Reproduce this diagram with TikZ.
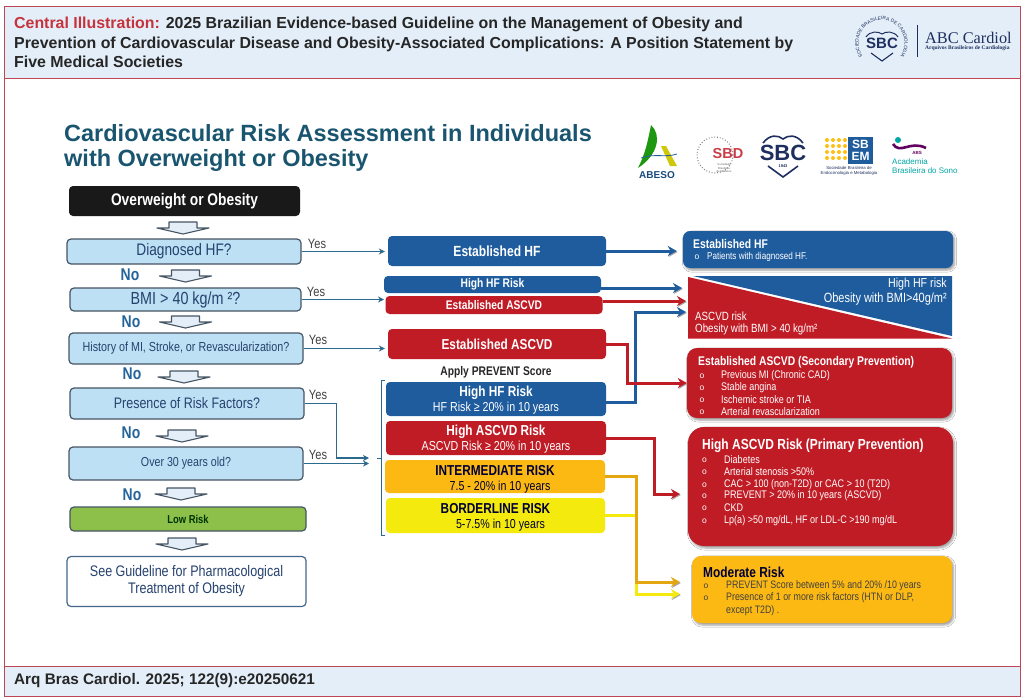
\documentclass[tikz,border=0pt]{standalone}
\usepackage{fontspec}
\setmainfont{Liberation Sans}
\newfontfamily\condfont[FakeStretch=0.82]{Liberation Sans}
\newfontfamily\logoserif{Liberation Serif}
\usepackage{tikz}
\usetikzlibrary{arrows.meta,calc,shadows.blur,decorations.text}
\usepackage{xcolor}
\definecolor{framered}{RGB}{190,70,85}
\definecolor{headblue}{RGB}{227,238,248}
\definecolor{titleteal}{RGB}{26,85,112}
\definecolor{qfill}{RGB}{190,224,244}
\definecolor{qedge}{RGB}{70,85,100}
\definecolor{navytext}{RGB}{38,66,110}
\definecolor{noblue}{RGB}{35,100,155}
\definecolor{linkteal}{RGB}{43,106,140}
\definecolor{riskblue}{RGB}{30,92,158}
\definecolor{riskred}{RGB}{192,28,38}
\definecolor{riskamber}{RGB}{253,185,19}
\definecolor{riskyellow}{RGB}{244,234,14}
\definecolor{lowgreen}{RGB}{140,192,75}
\definecolor{sbcnavy}{RGB}{30,47,95}
\tikzset{
    band/.style={draw=framered, line width=0.8pt, fill=headblue},
    body/.style={font=\fontsize{#1}{#1}\selectfont\condfont},
    headline/.style={anchor=west, inner sep=0pt, align=left,
                     font=\fontsize{15.9}{19.5}\selectfont\bfseries, text=black!85},
    qbox/.style={draw=qedge, line width=1.2pt, rounded corners=4pt, fill=qfill,
                 inner sep=0pt, text=navytext, align=center},
    nolabel/.style={inner sep=0pt, text=noblue,
                    font=\fontsize{17}{17}\selectfont\condfont\bfseries},
    yeslabel/.style={inner sep=0pt, text=black!75,
                     font=\fontsize{13.5}{13.5}\selectfont\condfont},
    link/.style={-{Stealth[length=6pt,width=6pt]}, line width=1.2pt, linkteal},
    midbox/.style={rounded corners=4pt, fill=#1, inner sep=0pt, text=white,
                   align=center},
    heavy/.style={-{Stealth[length=9pt,width=10pt]}, line width=3pt, #1,
                  preaction={draw=black!35, transform canvas={shift={(0.8pt,-1pt)}}}},
    riskbox/.style={fill=#1, inner sep=0pt,
                    blur shadow={shadow xshift=1.5pt, shadow yshift=-2pt, shadow blur steps=5}},
    rhead/.style={anchor=west, inner sep=0pt, text=#1,
                  font=\fontsize{12.6}{12.6}\selectfont\condfont\bfseries},
    ritem/.style={anchor=west, inner sep=0pt, text=#1,
                  font=\fontsize{11}{11}\selectfont\condfont},
    rbull/.style={inner sep=0pt, text=#1, font=\fontsize{8.5}{8.5}\selectfont},
    downarr/.pic={
        \draw[line width=1.1pt, draw=qedge, fill=headblue, line join=round]
            (-14,0) -- (14,0) -- (14,6) -- (26,6) -- (0,12) -- (-26,6) -- (-14,6) -- cycle;
    },
}
\begin{document}
\begin{tikzpicture}[x=1pt,y=-1pt]
    \useasboundingbox (0,0) rectangle (1024,698);
    \fill[white] (0,0) rectangle (1024,698);

    \draw[framered, line width=0.8pt] (4.5,6) rectangle (1020,696);
    \draw[band] (4.5,6) rectangle (1020,78);
    \draw[band] (4.5,666) rectangle (1020,696);

    \node[headline] (head) at (14,42.5) {\textcolor{riskred!90!white}{Central Illustration:} 2025 Brazilian Evidence-based Guideline on the Management of Obesity and\\
        Prevention of Cardiovascular Disease and Obesity-Associated Complications: A Position Statement by\\
        Five Medical Societies};
    \node[headline, font=\fontsize{15.3}{15.3}\selectfont\bfseries] (foot) at (14,681) {Arq Bras Cardiol. 2025; 122(9):e20250621};

    \node[anchor=west, inner sep=0pt, align=left, text=titleteal,
          font=\fontsize{23.5}{25}\selectfont\bfseries] (maintitle) at (64,148)
          {Cardiovascular Risk Assessment in Individuals\\with Overweight or Obesity};

    % journal mark
    \draw[sbcnavy, line width=0.8pt] (917,25) -- (917,57);
    \path[decorate, decoration={text along path, text align=center,
          text={|\fontsize{4.8}{4.8}\selectfont\color{sbcnavy}|SOCIEDADE BRASILEIRA DE CARDIOLOGIA}}]
        (881.5,43) ++(100:23) arc[start angle=100, end angle=440, radius=23];
    \draw[sbcnavy, line width=1pt] (866,37) .. controls (870,31) and (878,31) .. (882,34) .. controls (886,31) and (894,31) .. (898,37);
    \node[inner sep=0pt, text=sbcnavy, font=\fontsize{15}{15}\selectfont\bfseries] (sbchead) at (882,43) {SBC};
    \draw[sbcnavy, line width=1.1pt] (871,53) -- (882,61) -- (893,53);
    \node[inner sep=0pt, anchor=west, text=sbcnavy, font=\fontsize{16.3}{16.3}\selectfont\logoserif] (abc) at (925,37.5) {ABC Cardiol};
    \node[inner sep=0pt, anchor=west, text=sbcnavy, font=\fontsize{5.5}{5.5}\selectfont\logoserif\bfseries] (abcsub) at (925,48.5) {Arquivos Brasileiros de Cardiologia};

    % society marks
    \fill[green!55!black!80!lowgreen] (651,125) .. controls (662,135) and (658,155) .. (638,168) .. controls (646,152) and (648,140) .. (651,125);
    \fill[riskyellow!85!black] (661,146) -- (666,146) -- (677,166) -- (670,166) -- cycle;
    \draw[riskblue, line width=0.8pt] (641,158) .. controls (655,153) and (665,158) .. (677,154);
    \node[inner sep=0pt, text=riskblue!80!black, font=\fontsize{10}{10}\selectfont\bfseries] (abeso) at (657,175) {ABESO};

    \draw[black!55, line width=1pt, dash pattern=on 0.8pt off 2pt] (715,155) circle[radius=18];
    \node[inner sep=0pt, text=riskred!85!white, font=\fontsize{14.5}{14.5}\selectfont\bfseries] (sbd) at (728,154) {SBD};
    \node[inner sep=0pt, align=center, text=black!60, font=\fontsize{2.8}{3.2}\selectfont] (sbdsub) at (724,168) {Sociedade\\Brasileira\\de Diabetes};

    \draw[sbcnavy, line width=1.6pt] (763,143) .. controls (770,134) and (778,135) .. (783,139) .. controls (788,135) and (796,134) .. (803,143);
    \draw[sbcnavy, line width=1.6pt] (768,166) -- (783,177) -- (798,166);
    \node[inner sep=0pt, text=sbcnavy, font=\fontsize{22}{22}\selectfont\bfseries] (sbc) at (783,153) {SBC};
    \node[inner sep=0pt, text=sbcnavy, font=\fontsize{4}{4}\selectfont\bfseries] (sbcyear) at (783,166.5) {1943};

    \foreach \dx in {827,833,839,845}
        \foreach \dy in {140,146,152,158}
            \fill[riskamber!90!yellow] (\dx,\dy) circle[radius=2];
    \fill[riskblue] (848,137) rectangle (873,164);
    \node[inner sep=0pt, align=center, text=white, font=\fontsize{12}{12.5}\selectfont\bfseries] (sbem) at (860.5,150.5) {SB\\EM};
    \node[inner sep=0pt, align=center, text=sbcnavy, font=\fontsize{4.3}{5.5}\selectfont] (sbemsub) at (849,171) {Sociedade Brasileira de\\Endocrinologia e Metabologia};

    \fill[teal!70!cyan] (898,140) circle[radius=3];
    \draw[violet!75!black, line width=2.6pt] (893,144) .. controls (900,155) and (910,140) .. (926,148);
    \node[inner sep=0pt, text=violet!75!black, font=\fontsize{4.5}{4.5}\selectfont\bfseries] (abs) at (917,152.5) {ABS};
    \node[inner sep=0pt, anchor=west, align=left, text=teal!70!cyan, font=\fontsize{8}{8.5}\selectfont] (abssub) at (892,166) {Academia\\Brasileira do Sono};

    % left column
    \node[rounded corners=4pt, fill=black!90, text=white, inner sep=0pt, minimum width=231pt, minimum height=30pt,
          font=\fontsize{16.8}{16.8}\selectfont\condfont\bfseries] (start) at (184.5,201) {\raisebox{-4pt}{Overweight or Obesity}};
    \node[qbox, minimum width=234pt, minimum height=25pt, body=16.7] (qhf) at (184,251.5) {\raisebox{-3pt}{Diagnosed HF?}};
    \node[qbox, minimum width=231pt, minimum height=23pt, body=17.5] (qbmi) at (185.5,299.5) {\raisebox{-3pt}{BMI > 40 kg/m ²?}};
    \node[qbox, minimum width=234pt, minimum height=31pt, body=13.1] (qhist) at (186,348.5) {\raisebox{-1.5pt}{History of MI, Stroke, or Revascularization?}};
    \node[qbox, minimum width=234pt, minimum height=31pt, body=15.2] (qrisk) at (187,403.5) {Presence of Risk Factors?};
    \node[qbox, minimum width=234pt, minimum height=33pt, body=13] (qage) at (186,463.5) {\raisebox{-1pt}{Over 30 years old?}};
    \node[qbox, fill=lowgreen, minimum width=236pt, minimum height=24pt, text=black!80!green,
          font=\fontsize{11.5}{11.5}\selectfont\condfont\bfseries] (low) at (188,519) {Low Risk};
    \node[qbox, fill=white, draw=riskblue!70!black!80, minimum width=239pt, minimum height=50pt, text=navytext,
          font=\fontsize{15.3}{17}\selectfont\condfont] (guide) at (186.5,581.5) {See Guideline for Pharmacological\\Treatment of Obesity};

    \pic at (183,222) {downarr};
    \pic at (185.5,270) {downarr};
    \pic at (185.5,316) {downarr};
    \pic at (184,371) {downarr};
    \pic at (182,430) {downarr};
    \pic at (181,488) {downarr};
    \pic at (182,538) {downarr};

    \node[nolabel] (no1) at (130,275) {No};
    \node[nolabel] (no2) at (131,322) {No};
    \node[nolabel] (no3) at (132,374) {No};
    \node[nolabel] (no4) at (131,433) {No};
    \node[nolabel] (no5) at (132,495) {No};

    \node[yeslabel] (yes1) at (317,244) {Yes};
    \node[yeslabel] (yes2) at (316,292) {Yes};
    \node[yeslabel] (yes3) at (318,340) {Yes};
    \node[yeslabel] (yes4) at (318,395) {Yes};
    \node[yeslabel] (yes5) at (318,455) {Yes};

    % middle column
    \node[midbox=riskblue, minimum width=218pt, minimum height=30pt, font=\fontsize{14.7}{14.7}\selectfont\condfont\bfseries] (mhf) at (497,251) {Established HF};
    \node[midbox=riskblue, minimum width=217pt, minimum height=17pt, font=\fontsize{12.5}{12.5}\selectfont\condfont\bfseries] (mhfr) at (492.5,284.5) {High HF Risk};
    \node[midbox=riskred, minimum width=217pt, minimum height=18pt, font=\fontsize{12.5}{12.5}\selectfont\condfont\bfseries] (masc) at (494,305) {Established ASCVD};
    \node[midbox=riskred, minimum width=218pt, minimum height=30pt, font=\fontsize{14.4}{14.4}\selectfont\condfont\bfseries] (mascb) at (497,344) {Established ASCVD};
    \node[inner sep=0pt, text=black!85, font=\fontsize{12.5}{12.5}\selectfont\condfont\bfseries] (apply) at (496,372) {Apply PREVENT Score};
    \node[midbox=riskblue, minimum width=220pt, minimum height=34pt, font=\fontsize{13}{15}\selectfont\condfont] (prevhf) at (496,399)
        {\rule{0pt}{13pt}{\fontsize{14.4}{15}\selectfont\bfseries High HF Risk}\\HF Risk ≥ 20\% in 10 years};
    \node[midbox=riskred, minimum width=220pt, minimum height=34pt, font=\fontsize{13}{15}\selectfont\condfont] (prevasc) at (496,438)
        {\rule{0pt}{13pt}{\fontsize{14.4}{15}\selectfont\bfseries High ASCVD Risk}\\ASCVD Risk ≥ 20\% in 10 years};
    \node[midbox=riskamber, text=black!80!blue, minimum width=220pt, minimum height=33pt, font=\fontsize{13}{15}\selectfont\condfont] (prevint) at (495,476.5)
        {\rule{0pt}{15pt}{\fontsize{14.4}{15}\selectfont\bfseries INTERMEDIATE RISK}\\\hspace*{10pt}7.5 - 20\% in 10 years};
    \node[midbox=riskyellow, text=black!80!blue, minimum width=219pt, minimum height=35pt, font=\fontsize{13}{15}\selectfont\condfont] (prevbord) at (495.5,515.5)
        {\rule{0pt}{14pt}{\fontsize{14.4}{15}\selectfont\bfseries BORDERLINE RISK}\\\hspace*{10pt}5-7.5\% in 10 years};

    \draw[linkteal, line width=1pt] (385,380) -- (381,380) -- (381,535) -- (385,535);
    \coordinate (brk) at (381,458);
    \draw[linkteal, line width=1pt] (377,458) -- (brk);
    \coordinate (brkin1) at (369,458);
    \coordinate (brkin2) at (369,463.5);
    \coordinate (bmiend) at (384,299.5);

    \draw[link, shorten >=3pt] (qhf.east) -- (qhf.east -| mhf.west);
    \draw[link] (qbmi.east) -- (bmiend);
    \draw[link, shorten >=3pt] (qhist.east) -- (qhist.east -| mascb.west);
    \draw[link] (qrisk.east) -- ++(32,0) |- (brkin1);
    \draw[link] (qage.east) -- (brkin2);

    % right column
    \node[riskbox=riskblue, rounded corners=7pt, minimum width=270pt, minimum height=37pt] (rhf) at (818,249.5) {};
    \node[rhead=white] (rhftitle) at (693,244) {Established HF};
    \node[rbull=white] (rhfo) at (697,257) {o};
    \node[ritem=white, font=\fontsize{9.9}{9.9}\selectfont\condfont] (rhfitem) at (707,257) {Patients with diagnosed HF.};

    \fill[riskred] (688,277) -- (952,338.5) -- (688,338.5) -- cycle;
    \fill[riskblue] (693,276) -- (952,276) -- (952,336) -- cycle;
    \node[inner sep=0pt, anchor=east, text=white, font=\fontsize{13}{13}\selectfont\condfont] (trihf) at (947,284) {High HF risk};
    \node[inner sep=0pt, anchor=east, text=white, font=\fontsize{13.4}{13.4}\selectfont\condfont] (trihfb) at (947,299) {Obesity with BMI>40g/m²};
    \node[inner sep=0pt, anchor=west, text=white, font=\fontsize{11.9}{11.9}\selectfont\condfont] (triasc) at (695,316) {ASCVD risk};
    \node[inner sep=0pt, anchor=west, text=white, font=\fontsize{11.9}{11.9}\selectfont\condfont] (triascb) at (695,329) {Obesity with BMI > 40 kg/m²};

    \node[riskbox=riskred, rounded corners=10pt, minimum width=265pt, minimum height=70pt] (rsec) at (819.5,383) {};
    \node[rhead=white] (rsectitle) at (698,362) {Established ASCVD (Secondary Prevention)};
    \foreach \iy/\itxt in {376/Previous MI (Chronic CAD), 388/Stable angina, 400/Ischemic stroke or TIA, 412/Arterial revascularization} {
        \node[rbull=white] (seco\iy) at (702,\iy) {o};
        \node[ritem=white] (sect\iy) at (721,\iy) {\itxt};
    }

    \node[riskbox=riskred, rounded corners=16pt, minimum width=265pt, minimum height=119pt] (rasc) at (820.5,486.5) {};
    \node[rhead=white, font=\fontsize{14.6}{14.6}\selectfont\condfont\bfseries] (rasctitle) at (702,446) {High ASCVD Risk (Primary Prevention)};
    \foreach \iy/\itxt in {460/Diabetes, 472/Arterial stenosis >50\%, 485/CAC > 100 (non-T2D) or CAC > 10 (T2D), 496/PREVENT > 20\% in 10 years (ASCVD), 508/CKD, 521/{Lp(a) >50 mg/dL, HF or LDL-C >190 mg/dL}} {
        \node[rbull=white] (asco\iy) at (704.5,\iy) {o};
        \node[ritem=white] (asct\iy) at (724,\iy) {\itxt};
    }

    \node[riskbox=riskamber, rounded corners=9pt, minimum width=260pt, minimum height=67pt] (rmod) at (822,589.5) {};
    \node[rhead=black!80!blue, font=\fontsize{14.5}{14.5}\selectfont\condfont\bfseries] (rmodtitle) at (703,572) {Moderate Risk};
    \node[rbull=black!75] (modo1) at (706,586) {o};
    \node[ritem=black!75, font=\fontsize{10.8}{10.8}\selectfont\condfont] (modt1) at (726,586) {PREVENT Score between 5\% and 20\% /10 years};
    \node[rbull=black!75] (modo2) at (706,598) {o};
    \node[ritem=black!75, font=\fontsize{10.8}{10.8}\selectfont\condfont] (modt2) at (726,598) {Presence of 1 or more risk factors (HTN or DLP,};
    \node[ritem=black!75, font=\fontsize{10.8}{10.8}\selectfont\condfont] (modt3) at (726,611) {except T2D) .};

    \coordinate (triin1) at (682,288);
    \coordinate (triin2) at (686,301);
    \coordinate (triin3) at (686,312);
    \coordinate (ascin) at (680,494);
    \coordinate (modin1) at (680,582);
    \coordinate (modin2) at (680,594);

    \draw[heavy=riskblue, shorten >=6pt] (mhf.east) -- (mhf.east -| rhf.west);
    \draw[heavy=riskblue] (mhfr.east |- triin1) -- (triin1);
    \draw[heavy=riskred] (masc.east |- triin2) -- (triin2);
    \draw[heavy=riskblue] ($(prevhf.east)+(0,3)$) -- ++(29,0) |- (triin3);
    \draw[heavy=riskred] (mascb.east) -- ++(21,0) |- (rsec.west);
    \draw[heavy=riskred] (prevasc.east) -- ++(48,0) |- (ascin);
    \draw[heavy=riskyellow] (prevbord.east) -- ++(31,0) |- (modin2);
    \draw[heavy=riskamber!90!black] (prevint.east) -- ++(31,0) |- (modin1);
\end{tikzpicture}
\end{document}
